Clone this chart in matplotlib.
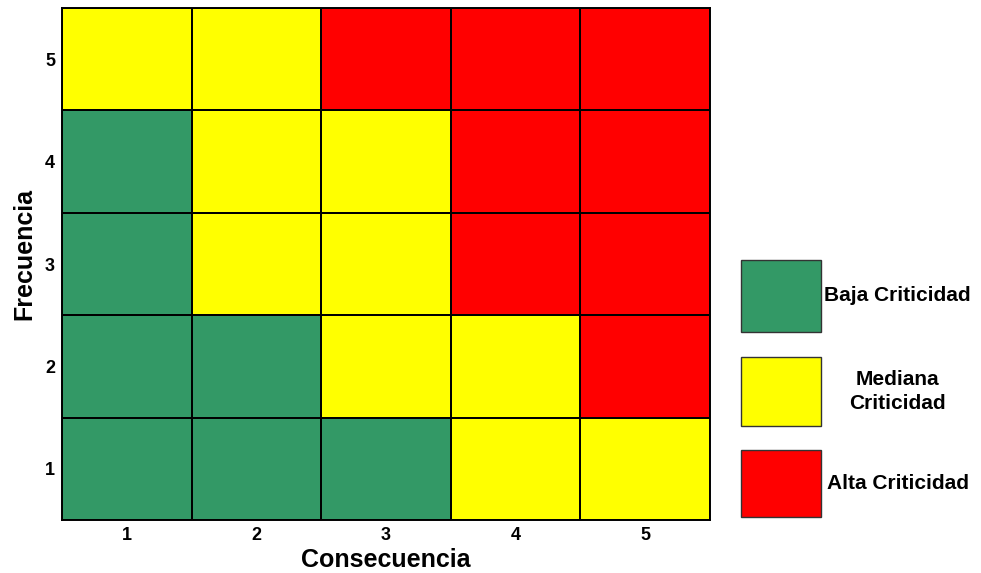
import numpy as np
import matplotlib.pyplot as plt
from matplotlib.colors import ListedColormap
from matplotlib.patches import Rectangle

plt.rcParams['font.family'] = ['Liberation Sans', 'DejaVu Sans']

# criticality level per cell: 0 = baja, 1 = mediana, 2 = alta
# rows are frecuencia 1..5, columns are consecuencia 1..5
consecuencia = [1, 2, 3, 4, 5]
frecuencia = [1, 2, 3, 4, 5]
nivel = [
    [0, 0, 0, 1, 1],
    [0, 0, 1, 1, 2],
    [0, 1, 1, 2, 2],
    [0, 1, 1, 2, 2],
    [1, 1, 2, 2, 2],
]
niveles = ["Baja Criticidad", "Mediana\nCriticidad", "Alta Criticidad"]
colores = ["#339966", "#FFFF00", "#FF0000"]

fig = plt.figure(figsize=(9.81, 5.73), dpi=100)
ax = fig.add_axes([0.0632, 0.0925, 0.6606, 0.8935])

x_edges = np.arange(len(consecuencia) + 1) + 0.5
y_edges = np.arange(len(frecuencia) + 1) + 0.5
ax.pcolormesh(x_edges, y_edges, np.array(nivel), cmap=ListedColormap(colores),
              vmin=-0.5, vmax=2.5, edgecolors="black", linewidth=1.3)

ax.set_xlim(x_edges[0], x_edges[-1])
ax.set_ylim(y_edges[0], y_edges[-1])
ax.set_xticks(consecuencia)
ax.set_yticks(frecuencia)
ax.set_xticklabels([str(c) for c in consecuencia], fontsize=13, fontweight="bold")
ax.set_yticklabels([str(f) for f in frecuencia], fontsize=13, fontweight="bold")
ax.tick_params(length=0, pad=5)
for s in ax.spines.values():
    s.set_linewidth(1.4)

ax.set_xlabel("Consecuencia", fontsize=18, fontweight="bold", labelpad=3)
ax.set_ylabel("Frecuencia", fontsize=18, fontweight="bold")
ax.yaxis.set_label_coords(-0.04, 0.52)

# legend boxes on the right
box_y = [0.421, 0.257, 0.098]
box_h = [0.125, 0.120, 0.117]
for col, label, y, h in zip(colores, niveles, box_y, box_h):
    fig.add_artist(Rectangle((0.755, y), 0.082, h, transform=fig.transFigure,
                             facecolor=col, edgecolor="#333333", linewidth=1))
    fig.text(0.915, y + h / 2, label, ha="center", va="center",
             fontsize=15, fontweight="bold", linespacing=1.35)

fig.savefig("out.png", dpi=100)
